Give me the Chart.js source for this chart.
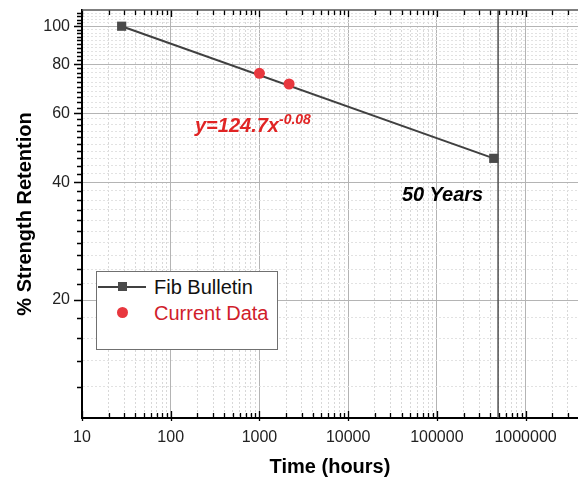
<!DOCTYPE html>
<html>
<head>
<meta charset="utf-8">
<script src="https://cdn.jsdelivr.net/npm/chart.js@4.4.1/dist/chart.umd.min.js"></script>
<style>
  html, body { margin: 0; padding: 0; background: #fff; overflow: hidden; }
  #wrap { position: relative; width: 578px; height: 485px; font-family: "Liberation Sans", Arial, sans-serif; }
  #legend { position: absolute; left: 96px; top: 271px; width: 180px; height: 77px; border: 1px solid #707070; background: #fff; }
  #legend .txt { position: absolute; left: 57px; font-size: 20px; line-height: 24px; white-space: nowrap; }
  #legend .ln { position: absolute; left: 1px; width: 48px; height: 0; border-top: 2px solid #404040; }
  #legend .sq { position: absolute; width: 9px; height: 9px; background: #4a4a4a; }
  #legend .dot { position: absolute; width: 11px; height: 11px; border-radius: 50%; background: #e8373e; }
  .note { position: absolute; font-size: 20px; line-height: 20px; font-weight: bold; font-style: italic; white-space: nowrap; }
  .note .sup { font-size: 14px; position: relative; top: -8px; }
</style>
</head>
<body>
<div id="wrap">
  <canvas id="myChart"></canvas>
  <div class="note" style="left:195px; top:115px; color:#e02424;">y=124.7x<span class="sup">-0.08</span></div>
  <div class="note" style="left:402px; top:184px; color:#000;">50 Years</div>
  <div id="legend">
    <div class="ln" style="top:14px;"></div>
    <div class="sq" style="left:21px; top:10px;"></div>
    <div class="txt" style="top:3px; color:#111;">Fib Bulletin</div>
    <div class="dot" style="left:20px; top:35px;"></div>
    <div class="txt" style="top:29px; color:#d0202a;">Current Data</div>
  </div>
</div>
<script>
// Fib Bulletin line (hours, % retained)
const fibHours = [28, 438000];
const fibRetention = [100, 46];
// test results
const testHours = [1000, 2160];
const testRetention = [75.8, 71.2];
// 50 year marker
const fiftyYearHours = 490000;
const markerRange = [10, 110];

const xLabelTicks = [10, 100, 1000, 10000, 100000, 1000000];
const yLabelTicks = [20, 40, 60, 80, 100];

const X_MIN = 10, X_MAX = 3.9e6;
const Y_MIN = 10, Y_MAX = 110;

// minor ticks: 1..9 per decade on x, every 2 % on y
let xTicks = [];
for (let d = 10; d < X_MAX; d *= 10) {
  for (let k = 1; k <= 9; k++) {
    if (d * k <= X_MAX) xTicks.push(d * k);
  }
}
let yTicks = [];
for (let v = 12; v < Y_MAX; v += 2) yTicks.push(v);

const font = '"Liberation Sans", Arial, sans-serif';

const tickMarks = {
  id: 'tickMarks',
  afterDraw(chart) {
    const {ctx, chartArea: a, scales: {x, y}} = chart;
    ctx.save();
    ctx.strokeStyle = '#000';
    ctx.lineWidth = 1.3;
    ctx.beginPath();
    x.ticks.forEach(t => {
      const px = Math.round(x.getPixelForValue(t.value)) + 0.5;
      const big = xLabelTicks.includes(t.value);
      ctx.moveTo(px, a.bottom + (big ? 3 : 0));
      ctx.lineTo(px, a.bottom - (big ? 7 : 5));
      ctx.moveTo(px, a.top);
      ctx.lineTo(px, a.top + (big ? 7 : 5));
    });
    y.ticks.forEach(t => {
      const py = Math.round(y.getPixelForValue(t.value)) + 0.5;
      const big = yLabelTicks.includes(t.value);
      ctx.moveTo(a.left, py);
      ctx.lineTo(a.left - (big ? 8 : 5), py);
    });
    ctx.stroke();
    ctx.strokeStyle = '#555';
    ctx.lineWidth = 1.5;
    ctx.beginPath();
    ctx.moveTo(a.left, a.top);
    ctx.lineTo(a.right, a.top);
    ctx.stroke();
    ctx.restore();
  }
};

function isMajor(ctx, list) {
  return ctx.tick && list.includes(ctx.tick.value);
}

const ctx = document.getElementById('myChart');
new Chart(ctx, {
  type: 'scatter',
  data: {
    datasets: [
      {
        label: 'Fib Bulletin',
        data: fibHours.map((h, i) => ({x: h, y: fibRetention[i]})),
        showLine: true,
        borderColor: '#404040',
        borderWidth: 2,
        pointStyle: 'rect',
        pointRadius: 6.5,
        pointBackgroundColor: '#4a4a4a',
        pointBorderWidth: 0,
        order: 2
      },
      {
        label: 'Current Data',
        data: testHours.map((h, i) => ({x: h, y: testRetention[i]})),
        pointRadius: 5.5,
        pointBackgroundColor: '#e8373e',
        pointBorderWidth: 0,
        order: 1
      },
      {
        label: '50 Years',
        data: markerRange.map(v => ({x: fiftyYearHours, y: v})),
        showLine: true,
        borderColor: '#505050',
        borderWidth: 1.5,
        pointRadius: 0,
        order: 3
      }
    ]
  },
  options: {
    responsive: true,
    maintainAspectRatio: false,
    animation: false,
    events: [],
    layout: { autoPadding: false, padding: { top: 10, right: 0, bottom: 0, left: 0 } },
    plugins: { legend: { display: false }, tooltip: { enabled: false } },
    scales: {
      x: {
        type: 'logarithmic',
        min: X_MIN,
        max: X_MAX,
        afterBuildTicks: s => { s.ticks = xTicks.map(v => ({value: v})); },
        afterFit: s => { s.height = 67; s.paddingLeft = 0; s.paddingRight = 0; },
        ticks: {
          autoSkip: false,
          maxRotation: 0,
          padding: 10,
          color: '#222',
          font: { family: font, size: 16 },
          callback: v => xLabelTicks.includes(v) ? String(v) : ''
        },
        grid: {
          drawTicks: false,
          color: c => isMajor(c, xLabelTicks) ? '#b4b4b4' : '#d8d8d8',
          lineWidth: 1
        },
        border: {
          color: '#000',
          width: 2,
          dash: c => isMajor(c, xLabelTicks) ? [] : [2, 2]
        },
        title: {
          display: true,
          text: 'Time (hours)',
          color: '#000',
          font: { family: font, size: 20, weight: 'bold' },
          padding: { top: 0, bottom: 6 }
        }
      },
      y: {
        type: 'logarithmic',
        min: Y_MIN,
        max: Y_MAX,
        afterBuildTicks: s => { s.ticks = yTicks.map(v => ({value: v})); },
        afterFit: s => { s.width = 82; s.paddingTop = 0; s.paddingBottom = 0; },
        ticks: {
          autoSkip: false,
          padding: 12,
          color: '#222',
          font: { family: font, size: 16 },
          callback: v => yLabelTicks.includes(v) ? String(v) : ''
        },
        grid: {
          drawTicks: false,
          color: c => isMajor(c, yLabelTicks) ? '#b4b4b4' : '#e2e2e2',
          lineWidth: 1
        },
        border: {
          color: '#000',
          width: 2,
          dash: c => isMajor(c, yLabelTicks) ? [] : [2, 2]
        },
        title: {
          display: true,
          text: '% Strength Retention',
          color: '#000',
          font: { family: font, size: 20, weight: 'bold' },
          padding: { top: 13, bottom: 0 }
        }
      }
    }
  },
  plugins: [tickMarks]
});
</script>
</body>
</html>
